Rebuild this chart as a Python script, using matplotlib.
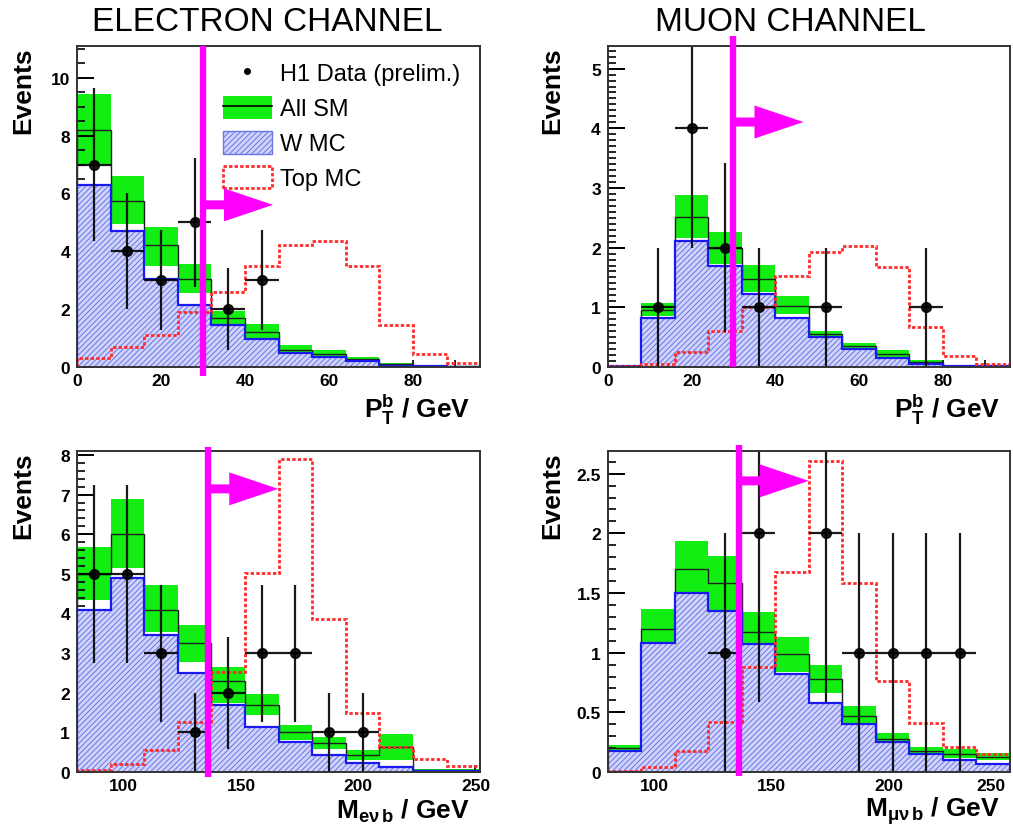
import numpy as np
import matplotlib
matplotlib.use('Agg')
import matplotlib.pyplot as plt
from matplotlib.patches import Patch, Polygon
from matplotlib.lines import Line2D
from matplotlib.legend_handler import HandlerTuple
from matplotlib.transforms import ScaledTranslation
from matplotlib.ticker import MultipleLocator, FormatStrFormatter

plt.rcParams['font.family'] = ['Liberation Sans', 'DejaVu Sans']
plt.rcParams['mathtext.fontset'] = 'custom'
plt.rcParams['mathtext.rm'] = 'Liberation Sans'
plt.rcParams['mathtext.bf'] = 'Liberation Sans:bold'
plt.rcParams['mathtext.it'] = 'Liberation Sans:italic'
plt.rcParams['hatch.linewidth'] = 0.7

# binning
pt_edges = np.arange(0, 97, 8)
mass_edges = np.linspace(80, 252, 13)
pt_cut = 30
mass_cut = 136

# electron channel, P_T^b
e_pt_sm = [8.2, 5.75, 4.2, 3.05, 1.7, 1.2, 0.6, 0.45, 0.27, 0.1, 0.03, 0.02]
e_pt_sm_lo = [7.0, 4.95, 3.5, 2.55, 1.45, 1.0, 0.5, 0.35, 0.2, 0.05, 0.01, 0.0]
e_pt_sm_hi = [9.45, 6.6, 4.85, 3.55, 1.95, 1.5, 0.75, 0.58, 0.35, 0.15, 0.05, 0.04]
e_pt_w = [6.3, 4.7, 3.05, 2.15, 1.45, 0.95, 0.5, 0.35, 0.2, 0.05, 0.02, 0.01]
e_pt_top = [0.3, 0.7, 1.1, 1.9, 2.6, 3.5, 4.2, 4.35, 3.5, 1.45, 0.45, 0.15]
e_pt_data = [7, 4, 3, 5, 2, 3, 0, 0, 0, 0, 0, 0]
e_pt_err = [2.65, 2.0, 1.73, 2.24, 1.41, 1.73, 0, 0, 0, 0, 0, 0]

# muon channel, P_T^b
mu_pt_sm = [0.01, 0.95, 2.52, 2.0, 1.47, 1.02, 0.55, 0.35, 0.22, 0.08, 0.02, 0.01]
mu_pt_sm_lo = [0.0, 0.85, 2.16, 1.73, 1.26, 0.88, 0.5, 0.3, 0.17, 0.05, 0.01, 0.0]
mu_pt_sm_hi = [0.02, 1.07, 2.88, 2.26, 1.71, 1.19, 0.6, 0.4, 0.28, 0.12, 0.03, 0.02]
mu_pt_w = [0.01, 0.82, 2.11, 1.7, 1.22, 0.82, 0.5, 0.3, 0.15, 0.05, 0.01, 0.01]
mu_pt_top = [0.02, 0.05, 0.25, 0.6, 1.0, 1.52, 1.93, 2.03, 1.67, 0.67, 0.18, 0.05]
mu_pt_data = [0, 1, 4, 2, 1, 0, 1, 0, 0, 1, 0, 0]
mu_pt_err = [0, 1.0, 2.0, 1.41, 1.0, 0, 1.0, 0, 0, 1.0, 0, 0]

# electron channel, M_enub
e_m_sm = [5.0, 6.0, 4.1, 3.25, 2.3, 1.7, 1.0, 0.73, 0.42, 0.63, 0.05, 0.05]
e_m_sm_lo = [4.35, 5.15, 3.53, 2.78, 1.75, 1.44, 0.81, 0.58, 0.3, 0.3, 0.03, 0.02]
e_m_sm_hi = [5.68, 6.9, 4.72, 3.7, 2.65, 1.97, 1.19, 0.88, 0.56, 0.96, 0.08, 0.08]
e_m_w = [4.1, 4.9, 3.45, 2.5, 1.7, 1.13, 0.76, 0.42, 0.22, 0.12, 0.03, 0.03]
e_m_top = [0.05, 0.2, 0.55, 1.26, 2.53, 5.02, 7.9, 3.86, 1.49, 0.63, 0.32, 0.15]
e_m_data = [5, 5, 3, 1, 2, 3, 3, 1, 1, 0, 0, 0]
e_m_err = [2.24, 2.24, 1.73, 1.0, 1.41, 1.73, 1.73, 1.0, 1.0, 0, 0, 0]

# muon channel, M_munub
mu_m_sm = [0.2, 1.2, 1.7, 1.58, 1.17, 0.99, 0.78, 0.47, 0.28, 0.18, 0.15, 0.13]
mu_m_sm_lo = [0.18, 1.08, 1.51, 1.34, 1.06, 0.84, 0.66, 0.4, 0.25, 0.16, 0.12, 0.1]
mu_m_sm_hi = [0.23, 1.37, 1.94, 1.81, 1.34, 1.13, 0.9, 0.55, 0.33, 0.21, 0.19, 0.16]
mu_m_w = [0.18, 1.08, 1.5, 1.35, 1.07, 0.82, 0.58, 0.4, 0.25, 0.15, 0.1, 0.07]
mu_m_top = [0.01, 0.04, 0.18, 0.42, 0.88, 1.68, 2.61, 1.58, 0.76, 0.41, 0.21, 0.15]
mu_m_data = [0, 0, 0, 1, 2, 0, 2, 1, 1, 1, 1, 0]
mu_m_err = [0, 0, 0, 1.0, 1.41, 0, 1.41, 1.0, 1.0, 1.0, 1.0, 0]

GREEN = '#12ee12'
W_FACE = '#d0d3fa'
W_HATCH = '#6b74e8'
W_EDGE = '#1a1af0'
TOP_RED = '#ff2a2a'
MAGENTA = '#ff00ff'

fig = plt.figure(figsize=(10.13, 8.28), dpi=100)


def draw_panel(rect, edges, sm, lo, hi, w, top, data, err, ylim, ymajor, yminor,
               xticks, xminor, xlabel, label_x, xlabel_y, cut, arrow_y, line_span):
    ax = fig.add_axes(rect)
    edges = np.asarray(edges)
    centers = 0.5 * (edges[:-1] + edges[1:])
    width = np.diff(edges)

    # total SM uncertainty band and central value
    ax.bar(centers, np.subtract(hi, lo), bottom=lo, width=width,
           color=GREEN, lw=0, zorder=1)
    ax.stairs(sm, edges, color='#202020', lw=1.0, zorder=2)
    # W MC, hatched
    ax.stairs(w, edges, fill=True, facecolor=W_FACE, edgecolor=W_HATCH,
              hatch='//////', lw=0, zorder=3)
    ax.stairs(w, edges, color=W_EDGE, lw=1.6, zorder=4)
    # top MC
    ax.stairs(top, edges, color=TOP_RED, lw=2.0, ls=(0, (1.2, 0.8)), zorder=5)

    # data
    data = np.asarray(data, dtype=float)
    sel = data > 0
    ax.errorbar(centers[sel], data[sel], yerr=np.asarray(err)[sel],
                xerr=width[sel] / 2, fmt='o', color='black', ms=7,
                elinewidth=1.6, capsize=0, zorder=6, alpha=0.9)

    ax.set_xlim(edges[0], edges[-1])
    ax.set_ylim(*ylim)
    ax.set_xticks(xticks)
    if xminor:
        ax.xaxis.set_minor_locator(MultipleLocator(xminor))
    ax.yaxis.set_major_locator(MultipleLocator(ymajor))
    ax.yaxis.set_minor_locator(MultipleLocator(yminor))
    ax.yaxis.set_major_formatter(FormatStrFormatter('%g'))
    ax.tick_params(axis='y', which='major', direction='in', length=12,
                   width=1.4, labelsize=12.5, pad=5)
    ax.tick_params(axis='y', which='minor', direction='in', length=6, width=1.2)
    ax.tick_params(axis='x', which='both', direction='in', length=5, width=1.2,
                   labelsize=12.5, pad=4)
    for lab in ax.get_xticklabels() + ax.get_yticklabels():
        lab.set_fontweight('bold')
    for sp in ax.spines.values():
        sp.set_linewidth(1.4)
        sp.set_color('#333333')
        sp.set_zorder(8)

    ax.text(label_x, 1.0, 'Events', rotation=90, ha='center', va='top',
            transform=ax.transAxes, fontsize=19, fontweight='bold')
    ax.text(0.975, xlabel_y, xlabel, ha='right', va='center',
            transform=ax.transAxes, fontsize=19, fontweight='bold')

    # cut line and arrow
    ax.plot([cut, cut], line_span, transform=ax.get_xaxis_transform(),
            color=MAGENTA, lw=4.6, solid_capstyle='butt', clip_on=False, zorder=9)
    arrow = [(0, -0.045), (0.21, -0.045), (0.21, -0.165), (0.70, 0),
             (0.21, 0.165), (0.21, 0.045), (0, 0.045)]
    trans = fig.dpi_scale_trans + ScaledTranslation(cut, arrow_y, ax.get_xaxis_transform())
    ax.add_patch(Polygon(arrow, closed=True, facecolor=MAGENTA, edgecolor='none',
                         transform=trans, clip_on=False, zorder=9))
    return ax


pt_label = r'$\mathbf{P}_{\mathbf{T}}^{\mathbf{b}}$ / GeV'
pt_ticks = [0, 20, 40, 60, 80]
mass_ticks = [100, 150, 200, 250]

ax1 = draw_panel([0.076, 0.5556, 0.398, 0.3877], pt_edges, e_pt_sm, e_pt_sm_lo,
                 e_pt_sm_hi, e_pt_w, e_pt_top, e_pt_data, e_pt_err, (0, 11.1), 2, 0.5,
                 pt_ticks, 10, pt_label, -0.134, -0.13, pt_cut, 0.505, [-0.028, 1.0])
ax2 = draw_panel([0.600, 0.5556, 0.397, 0.3877], pt_edges, mu_pt_sm, mu_pt_sm_lo,
                 mu_pt_sm_hi, mu_pt_w, mu_pt_top, mu_pt_data, mu_pt_err, (0, 5.38), 1, 0.1,
                 pt_ticks, 10, pt_label, -0.137, -0.13, pt_cut, 0.763, [0.0, 1.031])
ax3 = draw_panel([0.076, 0.0664, 0.398, 0.3877], mass_edges, e_m_sm, e_m_sm_lo,
                 e_m_sm_hi, e_m_w, e_m_top, e_m_data, e_m_err, (0, 8.1), 1, 0.2,
                 mass_ticks, None, r'$\mathbf{M}_{\mathbf{e\nu\,b}}$ / GeV', -0.134, -0.12,
                 mass_cut, 0.882, [-0.016, 1.012])
ax4 = draw_panel([0.600, 0.0664, 0.397, 0.3877], mass_edges, mu_m_sm, mu_m_sm_lo,
                 mu_m_sm_hi, mu_m_w, mu_m_top, mu_m_data, mu_m_err, (0, 2.69), 0.5, 0.1,
                 mass_ticks, None, r'$\mathbf{M}_{\mathbf{\mu\nu\,b}}$ / GeV', -0.137, -0.12,
                 mass_cut, 0.907, [-0.012, 1.019])

# keep the last mass tick label inside the figure
ax4.get_xticklabels()[-1].set_horizontalalignment('right')

# legend in the electron P_T panel
handles = [
    Line2D([], [], marker='o', ms=4, color='black', ls='none'),
    (Patch(facecolor=GREEN, edgecolor='none'), Line2D([], [], color='black', lw=1.2)),
    Patch(facecolor=W_FACE, edgecolor=W_HATCH, hatch='//////', lw=1.0),
    Patch(facecolor='white', edgecolor=TOP_RED, ls=(0, (1.2, 0.8)), lw=2.0),
]
labels = ['H1 Data (prelim.)', 'All SM', 'W MC', 'Top MC']
ax1.legend(handles, labels, loc='upper left', bbox_to_anchor=(0.32, 1.005),
           frameon=False, fontsize=17, handlelength=2.1, handleheight=1.1,
           labelspacing=0.45, handletextpad=0.35, borderpad=0.2,
           handler_map={tuple: HandlerTuple(ndivide=1, pad=0)})

fig.text(0.264, 0.973, 'ELECTRON CHANNEL', ha='center', va='center', fontsize=24)
fig.text(0.780, 0.973, 'MUON CHANNEL', ha='center', va='center', fontsize=24)

fig.savefig('out.png', dpi=100)
